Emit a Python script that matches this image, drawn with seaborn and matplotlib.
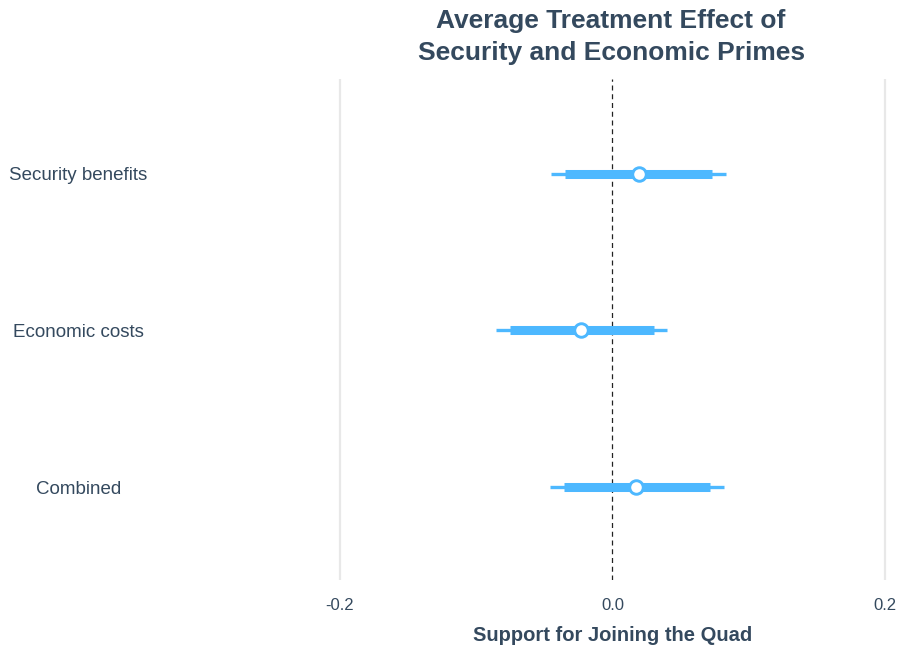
import matplotlib
matplotlib.use("Agg")
import matplotlib.pyplot as plt
from matplotlib.transforms import blended_transform_factory
import seaborn as sns
import pandas as pd

# Treatment arms and their estimated effects with 90% / 95% intervals
terms = ["Security benefits", "Economic costs", "Combined"]
estimate = [0.0192, -0.0229, 0.0175]
ci90_low = [-0.0349, -0.0752, -0.0354]
ci90_high = [0.0732, 0.0302, 0.0716]
ci95_low = [-0.0451, -0.0855, -0.0457]
ci95_high = [0.0835, 0.0402, 0.0818]
x_ticks = [-0.2, 0.0, 0.2]
x_ticklabels = ["-0.2", "0.0", "0.2"]

df = pd.DataFrame({
    "term": terms,
    "estimate": estimate,
    "lo90": ci90_low, "hi90": ci90_high,
    "lo95": ci95_low, "hi95": ci95_high,
})

sns.set_theme(style="white")
plt.rcParams["font.family"] = ["Liberation Sans", "DejaVu Sans"]

TEXT = "#34495e"
BLUE = "#4db8ff"

fig = plt.figure(figsize=(9.0, 6.46), dpi=100)
ax = fig.add_axes([0.3611, 0.102, 0.6389, 0.775])

ypos = list(range(len(terms)))

# intervals: thin outer (95%), thick inner (90%)
ax.hlines(ypos, df["lo95"], df["hi95"], color=BLUE, lw=2.4, zorder=2)
ax.hlines(ypos, df["lo90"], df["hi90"], color=BLUE, lw=6.5, zorder=3)

sns.scatterplot(data=df, x="estimate", y="term", ax=ax, s=95, marker="o",
                color="white", edgecolor=BLUE, linewidth=2.1, zorder=4, legend=False)

ax.set_xlim(-0.211, 0.211)
ax.set_ylim(2.594, -0.6)

for xv in x_ticks:
    if xv != 0:
        ax.axvline(xv, color="#e8e8e8", lw=1.6, zorder=0)
ax.axvline(0, color="#222222", lw=0.9, ls=(0, (4, 3)), zorder=1)

ax.set_xticks(x_ticks)
ax.set_xticklabels(x_ticklabels)
ax.set_yticks(ypos)
ax.set_yticklabels([])
ax.tick_params(axis="both", length=0)
ax.tick_params(axis="x", labelsize=12, labelcolor=TEXT, pad=13)

# category labels, centred in the left margin
label_tr = blended_transform_factory(fig.transFigure, ax.transData)
for y, t in zip(ypos, terms):
    ax.text(0.087, y, t, transform=label_tr, ha="center", va="center_baseline",
            fontsize=13.5, color=TEXT)

for s in ax.spines.values():
    s.set_visible(False)

ax.set_xlabel("Support for Joining the Quad", fontsize=14.5, fontweight="bold",
              color=TEXT, labelpad=9)
ax.set_ylabel("")

fig.text(0.679, 0.943, "Average Treatment Effect of\nSecurity and Economic Primes",
         ha="center", va="center", fontsize=19, fontweight="bold", color=TEXT,
         linespacing=1.42)

fig.savefig("out.png", dpi=100)
